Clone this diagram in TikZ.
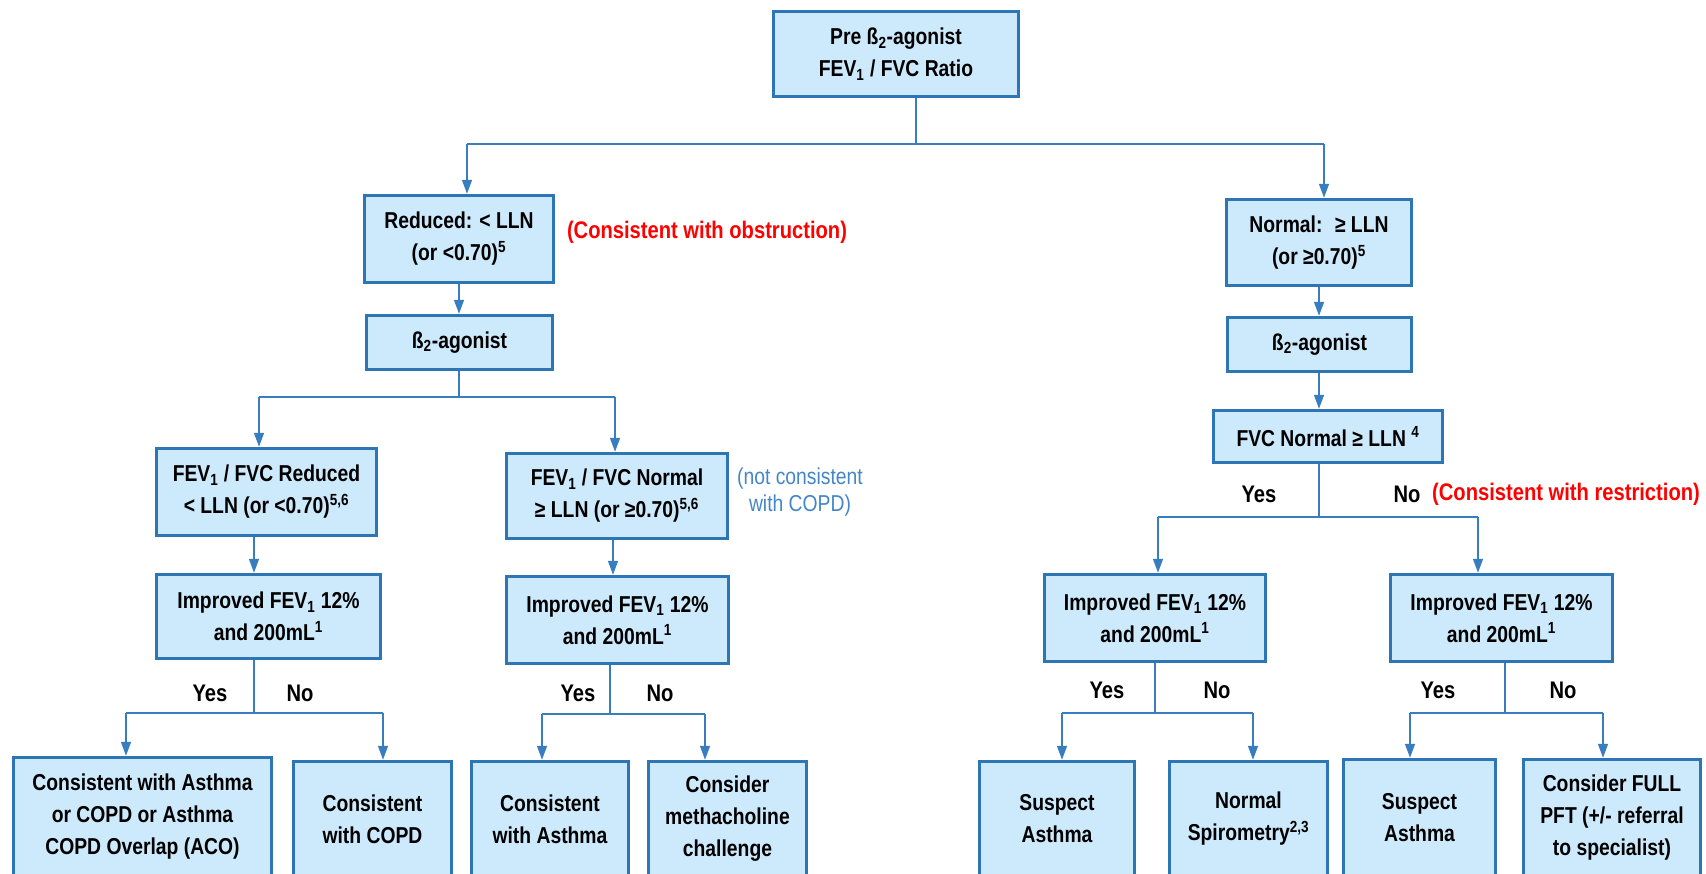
\documentclass[tikz,border=0pt]{standalone}
\usepackage{fontspec}
\setmainfont{Liberation Sans}[FakeStretch=0.84]
\usetikzlibrary{arrows.meta}
\definecolor{bordblue}{RGB}{46,117,182}
\definecolor{fillblue}{RGB}{205,234,252}
\definecolor{lineblue}{RGB}{55,125,192}
\definecolor{noteblue}{RGB}{68,134,200}
\definecolor{redtxt}{RGB}{255,0,0}
\tikzset{
  box/.style={draw=bordblue, fill=fillblue, line width=2.6pt, align=center, inner sep=2pt,
    font=\fontsize{17.25}{24}\selectfont\bfseries, text=black},
  ln/.style={draw=lineblue, line width=1.1pt},
  arr/.style={ln, -{Triangle[width=7.5pt,length=10.5pt]}},
  yn/.style={font=\fontsize{18}{22}\selectfont\bfseries, text=black, inner sep=0pt},
  redlab/.style={font=\fontsize{18}{22}\selectfont\bfseries, text=redtxt, inner sep=0pt},
  bluelab/.style={font=\fontsize{17.25}{20}\selectfont, text=noteblue, align=center, inner sep=0pt}
}
\newcommand\mybox[6]{\node[box, minimum width={(#4-#2-3)*0.75pt}, minimum height={(#5-#3-3)*0.75pt}] (#1) at ({(#2+#4)/2},{(#3+#5)/2}) {#6};}
\begin{document}
\begin{tikzpicture}[x=0.75pt,y=-0.75pt]
\useasboundingbox (0,0) rectangle (1706,874);
\clip (0,0) rectangle (1706,874);
% boxes
\mybox{T}{772}{10}{1020}{98}{Pre ß\textsubscript{2}-agonist\\FEV\textsubscript{1} / FVC Ratio}
\mybox{Red}{363}{194}{555}{284}{Reduced: < LLN\\(or <0.70)\textsuperscript{5}}
\mybox{Nor}{1225}{198}{1413}{287}{Normal:~ ≥ LLN\\(or ≥0.70)\textsuperscript{5}}
\mybox{BL}{365}{314}{554}{371}{ß\textsubscript{2}-agonist}
\mybox{BR}{1226}{316}{1413}{373}{ß\textsubscript{2}-agonist}
\mybox{FVC}{1212}{409}{1444}{464}{FVC Normal ≥ LLN \textsuperscript{4}}
\mybox{FR}{155}{447}{378}{537}{FEV\textsubscript{1} / FVC Reduced\\< LLN (or <0.70)\textsuperscript{5,6}}
\mybox{FN}{505}{452}{729}{540}{FEV\textsubscript{1} / FVC Normal\\≥ LLN (or ≥0.70)\textsuperscript{5,6}}
\mybox{LA}{155}{573}{382}{660}{Improved FEV\textsubscript{1} 12\%\\and 200mL\textsuperscript{1}}
\mybox{LB}{505}{575}{730}{665}{Improved FEV\textsubscript{1} 12\%\\and 200mL\textsuperscript{1}}
\mybox{RA}{1043}{573}{1267}{663}{Improved FEV\textsubscript{1} 12\%\\and 200mL\textsuperscript{1}}
\mybox{RB}{1389}{573}{1614}{663}{Improved FEV\textsubscript{1} 12\%\\and 200mL\textsuperscript{1}}
\mybox{B1}{12}{756}{273}{878}{Consistent with Asthma\\or COPD or Asthma\\COPD Overlap (ACO)}
\mybox{B2}{292}{760}{453}{878}{Consistent\\with COPD}
\mybox{B3}{470}{760}{630}{878}{Consistent\\with Asthma}
\mybox{B4}{647}{760}{808}{878}{Consider\\methacholine\\challenge}
\mybox{B5}{978}{760}{1136}{878}{Suspect\\Asthma}
\mybox{B6}{1168}{760}{1329}{878}{Normal\\Spirometry\textsuperscript{2,3}}
\mybox{B7}{1342}{758}{1497}{878}{Suspect\\Asthma}
\mybox{B8}{1522}{758}{1702}{878}{Consider FULL\\PFT (+/- referral\\to specialist)}
% side notes
\node[redlab] (obs) at (707,232) {(Consistent with obstruction)};
\node[bluelab] (note) at (800,492) {(not consistent\\with COPD)};
\node[redlab] (res) at (1566,494) {(Consistent with restriction)};
% yes/no labels
\node[yn] (y0) at (1259,494) {Yes};
\node[yn] (n0) at (1407,494) {No};
\node[yn] (y1) at (210,693) {Yes};
\node[yn] (n1) at (300,693) {No};
\node[yn] (y2) at (578,693) {Yes};
\node[yn] (n2) at (660,693) {No};
\node[yn] (y3) at (1107,690) {Yes};
\node[yn] (n3) at (1217,690) {No};
\node[yn] (y4) at (1438,690) {Yes};
\node[yn] (n4) at (1563,690) {No};
% junction coordinates
\coordinate (j0) at (916,144);
\coordinate (s0l) at (467,144);
\coordinate (s0r) at (1324,144);
\coordinate (j1) at (459,397);
\coordinate (s1l) at (259,397);
\coordinate (s1r) at (615,397);
\coordinate (j2) at (1319,517);
\coordinate (s2l) at (1158,517);
\coordinate (s2r) at (1478,517);
\coordinate (c1) at (254,0);
\coordinate (c2) at (613,0);
\coordinate (c3) at (1319,0);
\coordinate (j3) at (254,713);
\coordinate (s3l) at (126,713);
\coordinate (s3r) at (383,713);
\coordinate (j4) at (610,714);
\coordinate (s4l) at (542,714);
\coordinate (s4r) at (705,714);
\coordinate (j5) at (1155,713);
\coordinate (s5l) at (1062,713);
\coordinate (s5r) at (1253,713);
\coordinate (j6) at (1505,713);
\coordinate (s6l) at (1410,713);
\coordinate (s6r) at (1603,713);
% connectors
\draw[ln] (T.south -| j0) -- (j0);
\draw[ln] (s0l) -- (s0r);
\draw[arr] (s0l) -- (s0l |- Red.north);
\draw[arr] (s0r) -- (s0r |- Nor.north);
\draw[arr] (Red.south) -- (Red.south |- BL.north);
\draw[arr] (Nor.south -| c3) -- (c3 |- BR.north);
\draw[arr] (BR.south -| c3) -- (c3 |- FVC.north);
\draw[ln] (BL.south -| j1) -- (j1);
\draw[ln] (s1l) -- (s1r);
\draw[arr] (s1l) -- (s1l |- FR.north);
\draw[arr] (s1r) -- (s1r |- FN.north);
\draw[arr] (FR.south -| c1) -- (c1 |- LA.north);
\draw[arr] (FN.south -| c2) -- (c2 |- LB.north);
\draw[ln] (FVC.south -| j2) -- (j2);
\draw[ln] (s2l) -- (s2r);
\draw[arr] (s2l) -- (s2l |- RA.north);
\draw[arr] (s2r) -- (s2r |- RB.north);
\draw[ln] (LA.south -| j3) -- (j3);
\draw[ln] (s3l) -- (s3r);
\draw[arr] (s3l) -- (s3l |- B1.north);
\draw[arr] (s3r) -- (s3r |- B2.north);
\draw[ln] (LB.south -| j4) -- (j4);
\draw[ln] (s4l) -- (s4r);
\draw[arr] (s4l) -- (s4l |- B3.north);
\draw[arr] (s4r) -- (s4r |- B4.north);
\draw[ln] (RA.south -| j5) -- (j5);
\draw[ln] (s5l) -- (s5r);
\draw[arr] (s5l) -- (s5l |- B5.north);
\draw[arr] (s5r) -- (s5r |- B6.north);
\draw[ln] (RB.south -| j6) -- (j6);
\draw[ln] (s6l) -- (s6r);
\draw[arr] (s6l) -- (s6l |- B7.north);
\draw[arr] (s6r) -- (s6r |- B8.north);
\end{tikzpicture}
\end{document}
